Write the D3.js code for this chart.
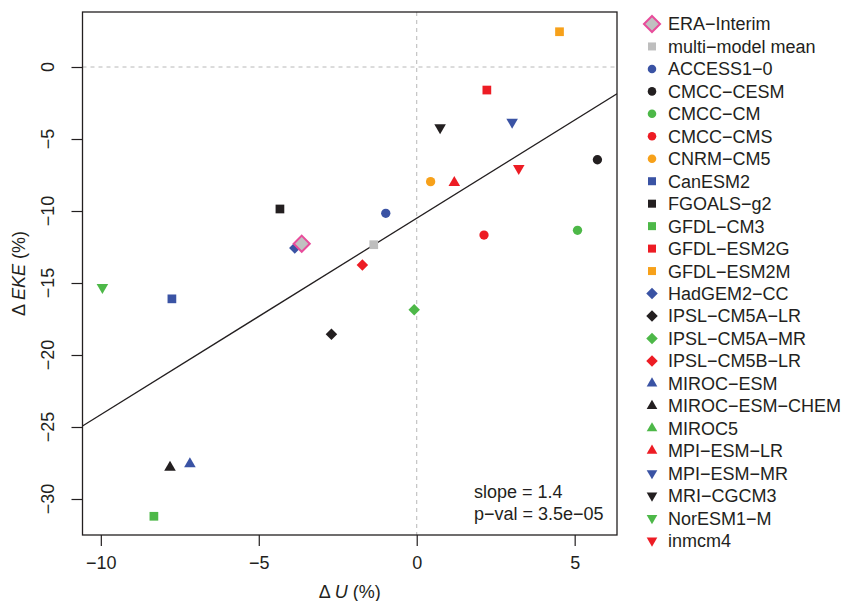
<!DOCTYPE html>
<html>
<head>
<meta charset="utf-8">
<script src="https://cdn.jsdelivr.net/npm/d3@7"></script>
<style>
  body { margin: 0; background: #fff; }
  text { font-family: "Liberation Sans", Arial, sans-serif; fill: #231f20; }
</style>
</head>
<body>
<svg class="chart"></svg>
<script>
// model names, marker shapes, colours and values (delta U %, delta EKE %)
let models = ["ERA\u2212Interim", "multi\u2212model mean", "ACCESS1\u22120", "CMCC\u2212CESM", "CMCC\u2212CM",
  "CMCC\u2212CMS", "CNRM\u2212CM5", "CanESM2", "FGOALS\u2212g2", "GFDL\u2212CM3", "GFDL\u2212ESM2G",
  "GFDL\u2212ESM2M", "HadGEM2\u2212CC", "IPSL\u2212CM5A\u2212LR", "IPSL\u2212CM5A\u2212MR", "IPSL\u2212CM5B\u2212LR",
  "MIROC\u2212ESM", "MIROC\u2212ESM\u2212CHEM", "MIROC5", "MPI\u2212ESM\u2212LR", "MPI\u2212ESM\u2212MR",
  "MRI\u2212CGCM3", "NorESM1\u2212M", "inmcm4"];
let shapes = ["era", "square", "circle", "circle", "circle", "circle", "circle", "square", "square", "square",
  "square", "square", "diamond", "diamond", "diamond", "diamond", "up", "up", "up", "up", "down", "down", "down", "down"];
let colors = ["#c0c0c0", "#bebebe", "#3a53a4", "#231f20", "#4db848", "#ed1c24", "#f7a11a", "#3a53a4", "#231f20",
  "#4db848", "#ed1c24", "#f7a11a", "#3a53a4", "#231f20", "#4db848", "#ed1c24", "#3a53a4", "#231f20", "#4db848",
  "#ed1c24", "#3a53a4", "#231f20", "#4db848", "#ed1c24"];
let dU = [-3.64, -1.36, -0.98, 5.72, 5.09, 2.13, 0.44, -7.75, -4.33, -8.32, 2.22, 4.52, -3.86, -2.70, -0.08, -1.72,
  -7.18, -7.81, null, 1.19, 3.02, 0.74, -9.95, 3.23];
let dEKE = [-12.27, -12.34, -10.16, -6.44, -11.34, -11.67, -7.96, -16.1, -9.86, -31.2, -1.6, 2.45, -12.57, -18.56,
  -16.85, -13.75, -27.57, -27.8, null, -8.03, -3.82, -4.21, -15.3, -7.04];
let xTicks = [-10, -5, 0, 5];
let yTicks = [0, -5, -10, -15, -20, -25, -30];
let fitSlope = 1.364, fitIntercept = -10.5;

let w = 848, h = 601;
let pLeft = 82.5, pRight = 617, pTop = 12, pBottom = 535;

var svg = d3.select(".chart").attr("width", w).attr("height", h);

var x = d3.scaleLinear().domain([-10.58, 6.34]).range([pLeft, pRight]);
var y = d3.scaleLinear().domain([-32.5, 3.82]).range([pBottom, pTop]);

svg.append("clipPath").attr("id", "plotclip")
  .append("rect").attr("x", pLeft).attr("y", pTop).attr("width", pRight - pLeft).attr("height", pBottom - pTop);

// dashed zero lines
svg.append("line")
   .attr("x1", x(0)).attr("x2", x(0)).attr("y1", pTop).attr("y2", pBottom)
   .attr("stroke", "#b8b8b8").attr("stroke-dasharray", "4,4");
svg.append("line")
   .attr("x1", pLeft).attr("x2", pRight).attr("y1", y(0)).attr("y2", y(0))
   .attr("stroke", "#b8b8b8").attr("stroke-dasharray", "4,4");

// regression line
svg.append("line")
   .attr("clip-path", "url(#plotclip)")
   .attr("x1", x(-10.58)).attr("y1", y(fitIntercept + fitSlope * -10.58))
   .attr("x2", x(6.34)).attr("y2", y(fitIntercept + fitSlope * 6.34))
   .attr("stroke", "#231f20").attr("stroke-width", 1.3);

// axes
svg.append("g")
   .attr("transform", "translate(0," + pBottom + ")")
   .call(d3.axisBottom(x).tickValues(xTicks).tickSize(11).tickPadding(10)
     .tickFormat(d => d < 0 ? "\u2212" + Math.abs(d) : d))
   .call(g => g.select(".domain").remove())
   .call(g => g.selectAll("line").attr("stroke", "#231f20").attr("stroke-width", 1.2))
   .call(g => g.selectAll("text").attr("font-size", "18px").attr("font-family", "Liberation Sans, Arial, sans-serif").attr("fill", "#231f20"));

svg.append("g")
   .attr("transform", "translate(" + pLeft + ",0)")
   .call(d3.axisLeft(y).tickValues(yTicks).tickSize(11).tickFormat(""))
   .call(g => g.select(".domain").remove())
   .call(g => g.selectAll("line").attr("stroke", "#231f20").attr("stroke-width", 1.2));

svg.selectAll(".ylab")
   .data(yTicks)
   .enter().append("text")
   .attr("class", "ylab")
   .attr("transform", d => "translate(" + 48 + "," + y(d) + ") rotate(-90)")
   .attr("text-anchor", "middle")
   .attr("dy", "0.35em")
   .attr("font-size", "18px")
   .text(d => d < 0 ? "\u2212" + Math.abs(d) : d);

// box
svg.append("rect")
   .attr("x", pLeft).attr("y", pTop).attr("width", pRight - pLeft).attr("height", pBottom - pTop)
   .attr("fill", "none").attr("stroke", "#231f20").attr("stroke-width", 1.3);

// axis titles
var xt = svg.append("text")
   .attr("x", (pLeft + pRight) / 2).attr("y", 598)
   .attr("text-anchor", "middle").attr("font-size", "18px");
xt.append("tspan").text("\u0394 ");
xt.append("tspan").attr("font-style", "italic").text("U");
xt.append("tspan").text(" (%)");

var yt = svg.append("text")
   .attr("transform", "translate(25," + ((pTop + pBottom) / 2) + ") rotate(-90)")
   .attr("text-anchor", "middle").attr("font-size", "18px");
yt.append("tspan").text("\u0394 ");
yt.append("tspan").attr("font-style", "italic").text("EKE");
yt.append("tspan").text(" (%)");

// markers
function symbolPath(shape, scale) {
  var s = scale || 1;
  if (shape == "square") return d3.symbol(d3.symbolSquare, 76 * s * s)();
  if (shape == "circle") return d3.symbol(d3.symbolCircle, 68 * s * s)();
  if (shape == "diamond") return d3.symbol(d3.symbolDiamond2, 84 * s * s)();
  if (shape == "era") return d3.symbol(d3.symbolDiamond2, 165 * s * s)();
  return d3.symbol(d3.symbolTriangle, 58 * s * s)();
}

var pts = d3.range(models.length).filter(i => dU[i] != null);
// ERA-Interim drawn last so it sits on top
pts = pts.filter(i => i != 0).concat([0]);

svg.selectAll(".pt")
   .data(pts)
   .enter().append("path")
   .attr("class", "pt")
   .attr("d", i => symbolPath(shapes[i]))
   .attr("transform", i => "translate(" + x(dU[i]) + "," + y(dEKE[i]) + ")" + (shapes[i] == "down" ? " rotate(180)" : ""))
   .attr("fill", i => colors[i])
   .attr("stroke", i => shapes[i] == "era" ? "#e84c9b" : "none")
   .attr("stroke-width", 2);

// fit annotation
svg.append("text").attr("x", 474).attr("y", 498).attr("font-size", "18px").text("slope = 1.4");
svg.append("text").attr("x", 474).attr("y", 520).attr("font-size", "18px").text("p\u2212val = 3.5e\u221205");

// legend
var leg = svg.selectAll(".leg")
   .data(d3.range(models.length))
   .enter().append("g")
   .attr("class", "leg")
   .attr("transform", i => "translate(652," + (24 + i * 22.46) + ")");

leg.append("path")
   .attr("d", i => symbolPath(shapes[i], (shapes[i] == "era" || shapes[i] == "diamond") ? 1 : 0.92))
   .attr("transform", i => shapes[i] == "down" ? "rotate(180)" : "")
   .attr("fill", i => colors[i])
   .attr("stroke", i => shapes[i] == "era" ? "#e84c9b" : "none")
   .attr("stroke-width", 2);

leg.append("text")
   .attr("x", 16)
   .attr("dy", "0.36em")
   .attr("font-size", "18px")
   .text(i => models[i]);
</script>
</body>
</html>
